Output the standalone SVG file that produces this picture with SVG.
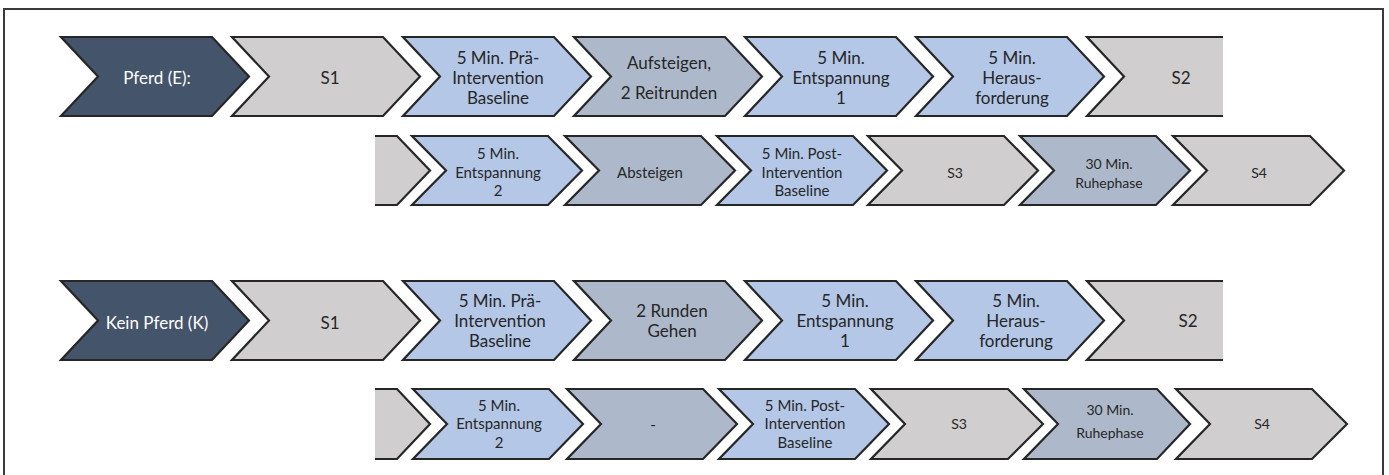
<svg xmlns="http://www.w3.org/2000/svg" width="1389" height="475" viewBox="0 0 1389 475">
<style>
.frame{fill:none;stroke:#3a3a3a;stroke-width:2}
.ch{stroke:#262626;stroke-width:2.2;stroke-linejoin:miter}
.dark{fill:#44546a}
.grey{fill:#d0cece}
.blue{fill:#b4c7e7}
.mid{fill:#adb9ca}
text{font-family:Lato,"Open Sans","Liberation Sans",sans-serif;text-anchor:middle;dominant-baseline:central;fill:#262626}
.t1{font-size:17px}
.t2{font-size:15px}
.t3{font-size:14px}
.w{fill:#ffffff}
</style>
<rect x="0" y="0" width="1389" height="475" fill="#ffffff"/>
<path class="frame" d="M4,476 V9 H1383 V476"/>

<!-- Row 1: Pferd (E) -->
<g id="r1-label"><path class="ch dark" d="M61,37 H212 L249,76.5 L212,116 H61 L98,76.5 Z"/><text class="t1 w" x="157" y="77">Pferd (E):</text></g>
<g id="r1-s1"><path class="ch grey" d="M232,37 H383 L420,76.5 L383,116 H232 L269,76.5 Z"/><text class="t1" x="330" y="77">S1</text></g>
<g id="r1-pre"><path class="ch blue" d="M403,37 H554 L591,76.5 L554,116 H403 L440,76.5 Z"/><text class="t1" x="498" y="57">5 Min. Prä-</text><text class="t1" x="498" y="77">Intervention</text><text class="t1" x="498" y="97">Baseline</text></g>
<g id="r1-auf"><path class="ch mid" d="M574,37 H725 L762,76.5 L725,116 H574 L611,76.5 Z"/><text class="t1" x="669" y="62">Aufsteigen,</text><text class="t1" x="669" y="92">2 Reitrunden</text></g>
<g id="r1-ent1"><path class="ch blue" d="M745,37 H896 L933,76.5 L896,116 H745 L782,76.5 Z"/><text class="t1" x="841" y="57">5 Min.</text><text class="t1" x="841" y="77">Entspannung</text><text class="t1" x="841" y="97">1</text></g>
<g id="r1-her"><path class="ch blue" d="M916,37 H1067 L1104,76.5 L1067,116 H916 L953,76.5 Z"/><text class="t1" x="1012" y="57">5 Min.</text><text class="t1" x="1012" y="77">Heraus-</text><text class="t1" x="1012" y="97">forderung</text></g>
<g id="r1-s2"><path class="grey" d="M1087,37 H1223 V116 H1087 L1124,76.5 Z"/><path class="ch" fill="none" d="M1223,37 H1087 L1124,76.5 L1087,116 H1223"/><text class="t1" x="1181" y="77">S2</text></g>

<!-- Row 2: continuation E -->
<g id="r2-start"><path class="grey" d="M375,136 H397 L430,170.5 L397,205 H375 Z"/><path class="ch" fill="none" d="M375,136 H397 L430,170.5 L397,205 H375"/></g>
<g id="r2-ent2"><path class="ch blue" d="M412,136 H548 L582,170.5 L548,205 H412 L446,170.5 Z"/><text class="t2" x="498" y="153">5 Min.</text><text class="t2" x="498" y="172">Entspannung</text><text class="t2" x="498" y="190">2</text></g>
<g id="r2-ab"><path class="ch mid" d="M565,136 H701 L735,170.5 L701,205 H565 L599,170.5 Z"/><text class="t2" x="650" y="172">Absteigen</text></g>
<g id="r2-post"><path class="ch blue" d="M717,136 H853 L887,170.5 L853,205 H717 L751,170.5 Z"/><text class="t2" x="802" y="153">5 Min. Post-</text><text class="t2" x="802" y="172">Intervention</text><text class="t2" x="802" y="190">Baseline</text></g>
<g id="r2-s3"><path class="ch grey" d="M868,136 H1004 L1038,170.5 L1004,205 H868 L902,170.5 Z"/><text class="t3" x="955" y="172">S3</text></g>
<g id="r2-ruhe"><path class="ch mid" d="M1020,136 H1156 L1190,170.5 L1156,205 H1020 L1054,170.5 Z"/><text class="t3" x="1109" y="163">30 Min.</text><text class="t3" x="1109" y="182">Ruhephase</text></g>
<g id="r2-s4"><path class="ch grey" d="M1173,136 H1310 L1344,170.5 L1310,205 H1173 L1207,170.5 Z"/><text class="t3" x="1259" y="172">S4</text></g>

<!-- Row 3: Kein Pferd (K) -->
<g id="r3-label"><path class="ch dark" d="M61,281 H212 L249,320.5 L212,360 H61 L98,320.5 Z"/><text class="t1 w" x="157" y="322">Kein Pferd (K)</text></g>
<g id="r3-s1"><path class="ch grey" d="M232,281 H383 L420,320.5 L383,360 H232 L269,320.5 Z"/><text class="t1" x="330" y="322">S1</text></g>
<g id="r3-pre"><path class="ch blue" d="M403,281 H554 L591,320.5 L554,360 H403 L440,320.5 Z"/><text class="t1" x="500" y="300">5 Min. Prä-</text><text class="t1" x="500" y="320">Intervention</text><text class="t1" x="500" y="340">Baseline</text></g>
<g id="r3-gehen"><path class="ch mid" d="M574,281 H725 L762,320.5 L725,360 H574 L611,320.5 Z"/><text class="t1" x="672" y="310">2 Runden</text><text class="t1" x="672" y="330">Gehen</text></g>
<g id="r3-ent1"><path class="ch blue" d="M745,281 H896 L933,320.5 L896,360 H745 L782,320.5 Z"/><text class="t1" x="845" y="300">5 Min.</text><text class="t1" x="845" y="320">Entspannung</text><text class="t1" x="845" y="340">1</text></g>
<g id="r3-her"><path class="ch blue" d="M916,281 H1067 L1104,320.5 L1067,360 H916 L953,320.5 Z"/><text class="t1" x="1016" y="300">5 Min.</text><text class="t1" x="1016" y="320">Heraus-</text><text class="t1" x="1016" y="340">forderung</text></g>
<g id="r3-s2"><path class="grey" d="M1087,281 H1223 V360 H1087 L1124,320.5 Z"/><path class="ch" fill="none" d="M1223,281 H1087 L1124,320.5 L1087,360 H1223"/><text class="t1" x="1188" y="320">S2</text></g>

<!-- Row 4: continuation K -->
<g id="r4-start"><path class="grey" d="M375,389 H397 L430,424 L397,459 H375 Z"/><path class="ch" fill="none" d="M375,389 H397 L430,424 L397,459 H375"/></g>
<g id="r4-ent2"><path class="ch blue" d="M413,389 H549 L583,424 L549,459 H413 L447,424 Z"/><text class="t2" x="499" y="405">5 Min.</text><text class="t2" x="499" y="423">Entspannung</text><text class="t2" x="499" y="442">2</text></g>
<g id="r4-dash"><path class="ch mid" d="M567,389 H703 L737,424 L703,459 H567 L601,424 Z"/><text class="t2" x="653" y="424">-</text></g>
<g id="r4-post"><path class="ch blue" d="M719,389 H855 L889,424 L855,459 H719 L753,424 Z"/><text class="t2" x="805" y="405">5 Min. Post-</text><text class="t2" x="805" y="423">Intervention</text><text class="t2" x="805" y="442">Baseline</text></g>
<g id="r4-s3"><path class="ch grey" d="M871,389 H1008 L1043,424 L1008,459 H871 L905,424 Z"/><text class="t3" x="959" y="423">S3</text></g>
<g id="r4-ruhe"><path class="ch mid" d="M1024,389 H1157 L1190,424 L1157,459 H1024 L1058,424 Z"/><text class="t3" x="1110" y="409">30 Min.</text><text class="t3" x="1110" y="432">Ruhephase</text></g>
<g id="r4-s4"><path class="ch grey" d="M1176,389 H1312 L1347,424 L1312,459 H1176 L1210,424 Z"/><text class="t3" x="1262" y="423">S4</text></g>

<g id="connectors"></g>
</svg>
